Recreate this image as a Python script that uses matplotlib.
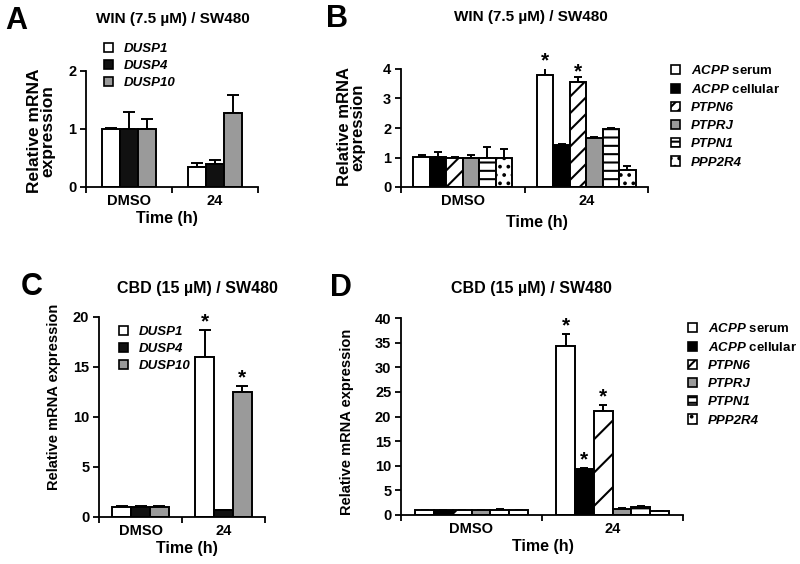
import matplotlib
matplotlib.use('Agg')
import matplotlib.pyplot as plt
import numpy as np
from matplotlib.patches import Patch

plt.rcParams['font.family'] = ['Liberation Sans', 'DejaVu Sans']
plt.rcParams['font.weight'] = 'bold'
plt.rcParams['mathtext.fontset'] = 'custom'
plt.rcParams['mathtext.it'] = 'Liberation Sans:italic:bold'
plt.rcParams['mathtext.rm'] = 'Liberation Sans:bold'
plt.rcParams['mathtext.bf'] = 'Liberation Sans:bold'
plt.rcParams['hatch.linewidth'] = 1.5

# ---------------- data ----------------
timepoints = ['DMSO', '24']

dusp_labels = ['DUSP1', 'DUSP4', 'DUSP10']
ptp_labels = [r'$\mathit{ACPP}$ serum', r'$\mathit{ACPP}$ cellular', 'PTPN6', 'PTPRJ', 'PTPN1', 'PPP2R4']

# Panel A: WIN / SW480, DUSP genes (rows = genes, cols = timepoints)
a_values = [[1.00, 0.34], [1.00, 0.40], [1.00, 1.27]]
a_errors = [[0.02, 0.07], [0.29, 0.07], [0.18, 0.31]]
a_stars = []

# Panel B: WIN / SW480, phosphatase genes
b_values = [[1.02, 3.79], [1.02, 1.43], [1.00, 3.56], [1.00, 1.65], [1.00, 1.98], [1.00, 0.58]]
b_errors = [[0.08, 0.33], [0.15, 0.02], [0.03, 0.17], [0.10, 0.03], [0.34, 0.03], [0.28, 0.12]]
b_stars = [(0, 1), (2, 1)]

# Panel C: CBD / SW480, DUSP genes
c_values = [[1.05, 16.0], [1.05, 0.70], [1.05, 12.55]]
c_errors = [[0.05, 2.75], [0.08, 0.05], [0.02, 0.60]]
c_stars = [(0, 1), (2, 1)]

# Panel D: CBD / SW480, phosphatase genes
d_values = [[1.0, 34.4], [1.0, 9.4], [1.0, 21.1], [1.0, 1.3], [1.0, 1.7], [1.0, 0.8]]
d_errors = [[0.05, 2.4], [0.05, 0.1], [0.05, 1.2], [0.05, 0.05], [0.3, 0.1], [0.05, 0.05]]
d_stars = [(0, 1), (1, 1), (2, 1)]

a_yticks = [0, 1, 2]
b_yticks = [0, 1, 2, 3, 4]
c_yticks = [0, 5, 10, 15, 20]
d_yticks = [0, 5, 10, 15, 20, 25, 30, 35, 40]

# ---------------- styles ----------------
dusp_styles = [dict(facecolor='white', hatch=None),
               dict(facecolor='#111111', hatch=None),
               dict(facecolor='#9a9a9a', hatch=None)]


def ptp_styles(diag, horiz, dots):
    return [dict(facecolor='white', hatch=None),
            dict(facecolor='black', hatch=None),
            dict(facecolor='white', hatch=diag),
            dict(facecolor='#9a9a9a', hatch=None),
            dict(facecolor='white', hatch=horiz),
            dict(facecolor='white', hatch=dots)]


W, H = 800, 564
fig = plt.figure(figsize=(W / 100, H / 100), dpi=100)

TICK_FS = 10.5


def fx(px):
    return px / W


def fy(py):
    return 1 - py / H


def make_axes(left, right, top, bottom):
    return fig.add_axes([fx(left), fy(bottom), fx(right - left), (bottom - top) / H])


def draw_panel(ax, values, errors, styles, group_frac, capsize, yticks, stars):
    n = len(values)
    barw = group_frac / n
    centers = np.arange(len(timepoints)) + 0.5
    ymax = yticks[-1]
    for i in range(n):
        xs = centers + (i - (n - 1) / 2) * barw
        st = styles[i]
        ax.bar(xs, values[i], width=barw, facecolor=st['facecolor'], edgecolor='black',
               linewidth=1.4, hatch=st['hatch'], zorder=2)
        ax.errorbar(xs, values[i], yerr=[np.zeros(len(values[i])), errors[i]], fmt='none',
                    ecolor='black', elinewidth=1.4, capsize=capsize, capthick=1.4, zorder=1)
    for (si, ti) in stars:
        x = centers[ti] + (si - (n - 1) / 2) * barw
        y = values[si][ti] + errors[si][ti] + 0.04 * ymax
        ax.text(x, y, '*', ha='center', va='center', fontsize=15, fontweight='bold')
    ax.set_xlim(0, len(timepoints))
    ax.set_ylim(0, ymax)
    ax.set_yticks(yticks)
    ax.set_yticklabels([str(t) for t in yticks], fontsize=TICK_FS, fontweight='bold')
    ax.set_xticks(np.arange(len(timepoints) + 1))
    ax.set_xticklabels([''] * (len(timepoints) + 1))
    ax.set_xticks(centers, minor=True)
    ax.set_xticklabels(timepoints, minor=True, fontsize=TICK_FS, fontweight='bold')
    ax.tick_params(axis='x', which='minor', length=0, pad=5)
    ax.tick_params(axis='both', which='major', length=4, width=1.3, direction='out', pad=3)
    for s in ['top', 'right']:
        ax.spines[s].set_visible(False)
    for s in ['left', 'bottom']:
        ax.spines[s].set_linewidth(1.3)


def add_legend(labels, styles, x, y, spacing):
    handles = [Patch(facecolor=st['facecolor'], edgecolor='black', hatch=st['hatch'],
                     linewidth=1.2) for st in styles]
    leg = fig.legend(handles, labels, loc='upper left', bbox_to_anchor=(fx(x), fy(y)),
                     frameon=False, fontsize=9.5, handlelength=0.7, handleheight=0.7,
                     handletextpad=0.8, labelspacing=spacing, borderpad=0, borderaxespad=0)
    for t in leg.get_texts():
        t.set_fontweight('bold')
        if '$' not in t.get_text():
            t.set_fontstyle('italic')
    return leg


# Panel A
axA = make_axes(86, 258, 71, 187)
draw_panel(axA, a_values, a_errors, dusp_styles, 0.63, 4, a_yticks, a_stars)
# Panel B
axB = make_axes(401, 648, 69, 187)
draw_panel(axB, b_values, b_errors, ptp_styles('//', '--', '..'), 0.8, 3, b_yticks, b_stars)
# Panel C
axC = make_axes(99, 265, 317, 517)
draw_panel(axC, c_values, c_errors, dusp_styles, 0.675, 4, c_yticks, c_stars)
# Panel D
axD = make_axes(401, 683, 318, 515)
draw_panel(axD, d_values, d_errors, ptp_styles('/', '-', '..'), 0.8, 3, d_yticks, d_stars)

# Legends
add_legend(dusp_labels, dusp_styles, 104, 43, 0.37)
add_legend(ptp_labels, ptp_styles('///', '---', '..'), 671, 64, 0.45)
add_legend(dusp_labels, dusp_styles, 119, 326, 0.37)
add_legend(ptp_labels, ptp_styles('///', '---', '..'), 688, 322, 0.45)

# Titles
fig.text(fx(173), fy(19), 'WIN (7.5 µM) / SW480', ha='center', va='center', fontsize=11, fontweight='bold')
fig.text(fx(531), fy(17), 'WIN (7.5 µM) / SW480', ha='center', va='center', fontsize=11, fontweight='bold')
fig.text(fx(197), fy(288), 'CBD (15 µM) / SW480', ha='center', va='center', fontsize=11.5, fontweight='bold')
fig.text(fx(531), fy(288), 'CBD (15 µM) / SW480', ha='center', va='center', fontsize=11.5, fontweight='bold')

# Panel letters
for letter, x, y in [('A', 16, 21), ('B', 337, 19), ('C', 32, 287), ('D', 341, 288)]:
    fig.text(fx(x), fy(y), letter, ha='center', va='center', fontsize=22, fontweight='bold')

# Y labels
fig.text(fx(41), fy(131), 'Relative mRNA\nexpression', ha='center', va='center', rotation=90,
         fontsize=12.5, fontweight='bold', linespacing=0.9)
fig.text(fx(351), fy(127), 'Relative mRNA\nexpression', ha='center', va='center', rotation=90,
         fontsize=12, fontweight='bold', linespacing=0.9)
fig.text(fx(54), fy(397), 'Relative mRNA expression', ha='center', va='center', rotation=90,
         fontsize=10.5, fontweight='bold')
fig.text(fx(347), fy(422), 'Relative mRNA expression', ha='center', va='center', rotation=90,
         fontsize=10.5, fontweight='bold')

# X labels
for x, y in [(167, 219), (537, 222), (187, 548), (543, 547)]:
    fig.text(fx(x), fy(y), 'Time (h)', ha='center', va='center', fontsize=11.5, fontweight='bold')

fig.savefig('out.png', dpi=100)
